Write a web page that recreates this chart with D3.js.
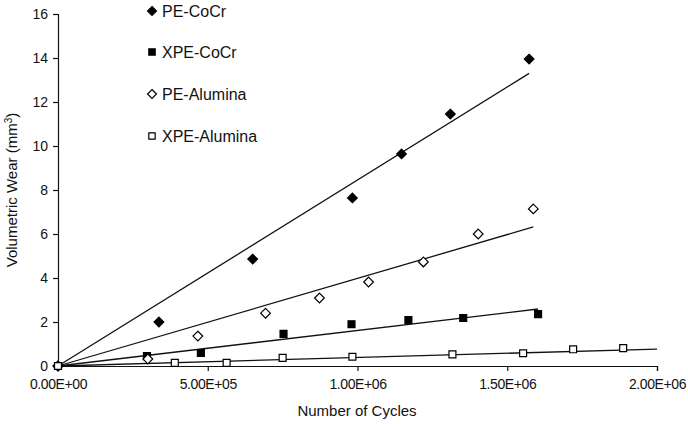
<!DOCTYPE html>
<html><head><meta charset="utf-8">
<script src="https://cdn.jsdelivr.net/npm/d3@7"></script>
<style>body{margin:0;background:#fff;} text{font-family:"Liberation Sans",Arial,sans-serif;fill:#111;}</style>
</head><body><svg id="c" width="688" height="424"></svg>
<script>
const seriesNames = ["PE-CoCr","XPE-CoCr","PE-Alumina","XPE-Alumina"];
const peCoCrX = [0, 3.37e5, 6.5e5, 9.83e5, 1.147e6, 1.31e6, 1.573e6];
const peCoCrY = [0, 2.0, 4.86, 7.64, 9.64, 11.45, 13.95];
const xpeCoCrX = [0, 2.97e5, 4.77e5, 7.53e5, 9.8e5, 1.17e6, 1.353e6, 1.603e6];
const xpeCoCrY = [0, 0.45, 0.59, 1.46, 1.9, 2.09, 2.18, 2.36];
const peAlX = [0, 3.0e5, 4.67e5, 6.93e5, 8.73e5, 1.037e6, 1.22e6, 1.403e6, 1.587e6];
const peAlY = [0, 0.32, 1.36, 2.4, 3.09, 3.82, 4.73, 6.0, 7.14];
const xpeAlX = [0, 3.9e5, 5.63e5, 7.5e5, 9.83e5, 1.317e6, 1.553e6, 1.72e6, 1.887e6];
const xpeAlY = [0, 0.14, 0.14, 0.37, 0.42, 0.53, 0.58, 0.76, 0.81];
// trend lines (linear, through origin): end point
const trendEndX = [1.573e6, 1.603e6, 1.587e6, 2.0e6];
const trendEndY = [13.3, 2.59, 6.32, 0.77];
const xTicks = [0, 5e5, 1e6, 1.5e6, 2e6];
const xTickLabels = ["0.00E+00","5.00E+05","1.00E+06","1.50E+06","2.00E+06"];
const yTicks = [0,2,4,6,8,10,12,14,16];

const svg = d3.select("#c");
const x = d3.scaleLinear().domain([0, 2e6]).range([58, 657]);
const y = d3.scaleLinear().domain([0, 16]).range([366, 14]);

const xAxis = d3.axisBottom(x).tickValues(xTicks).tickFormat((d,i)=>xTickLabels[i]).tickSizeOuter(0).tickSize(5).tickPadding(8);
const gx = svg.append("g").attr("transform","translate(0,366)").call(xAxis);
const yAxis = d3.axisLeft(y).tickValues(yTicks).tickSizeOuter(0).tickSize(5).tickPadding(5);
const gy = svg.append("g").attr("transform","translate(58,0)").call(yAxis);
[gx,gy].forEach(g=>{
  g.selectAll("path,line").attr("stroke","#111").attr("stroke-width",1.2);
  g.selectAll("text").style("font-size","14px").attr("fill","#111");
});
gx.selectAll("text").style("letter-spacing","-0.4px");

svg.append("text").attr("x",357).attr("y",416).attr("text-anchor","middle").style("font-size","15px").text("Number of Cycles");
const yt = svg.append("text").attr("transform","translate(17,190) rotate(-90)").attr("text-anchor","middle").style("font-size","15px");
yt.append("tspan").text("Volumetric Wear (mm");
yt.append("tspan").attr("dy",-5).style("font-size","10px").text("3");
yt.append("tspan").attr("dy",5).text(")");

const xs = [peCoCrX, xpeCoCrX, peAlX, xpeAlX];
const ys = [peCoCrY, xpeCoCrY, peAlY, xpeAlY];
const symbols = [d3.symbolDiamond2, d3.symbolSquare, d3.symbolDiamond2, d3.symbolSquare];
const sizes = [60, 48, 60, 48];
const fills = ["#000","#000","#fff","#fff"];

// trend lines
seriesNames.forEach((n,i)=>{
  svg.append("line").attr("x1",x(0)).attr("y1",y(0)).attr("x2",x(trendEndX[i])).attr("y2",y(trendEndY[i]))
    .attr("stroke","#111").attr("stroke-width",1.3);
});
// points
seriesNames.forEach((n,i)=>{
  const sym = d3.symbol().type(symbols[i]).size(sizes[i]);
  svg.append("g").selectAll("path").data(xs[i].map((v,j)=>[v, ys[i][j]])).join("path")
    .attr("d", sym).attr("transform", d=>`translate(${x(d[0])},${y(d[1])})`)
    .attr("fill", fills[i]).attr("stroke","#000").attr("stroke-width",1.2);
});
// legend
const legY = [11, 52, 94, 136];
seriesNames.forEach((n,i)=>{
  const g = svg.append("g").attr("transform",`translate(152,${legY[i]})`);
  g.append("path").attr("d", d3.symbol().type(symbols[i]).size(sizes[i]*0.85)()).attr("fill",fills[i]).attr("stroke","#000").attr("stroke-width",1.2);
  g.append("text").attr("x",10).attr("y",6).style("font-size","16px").text(n);
});
</script></body></html>
